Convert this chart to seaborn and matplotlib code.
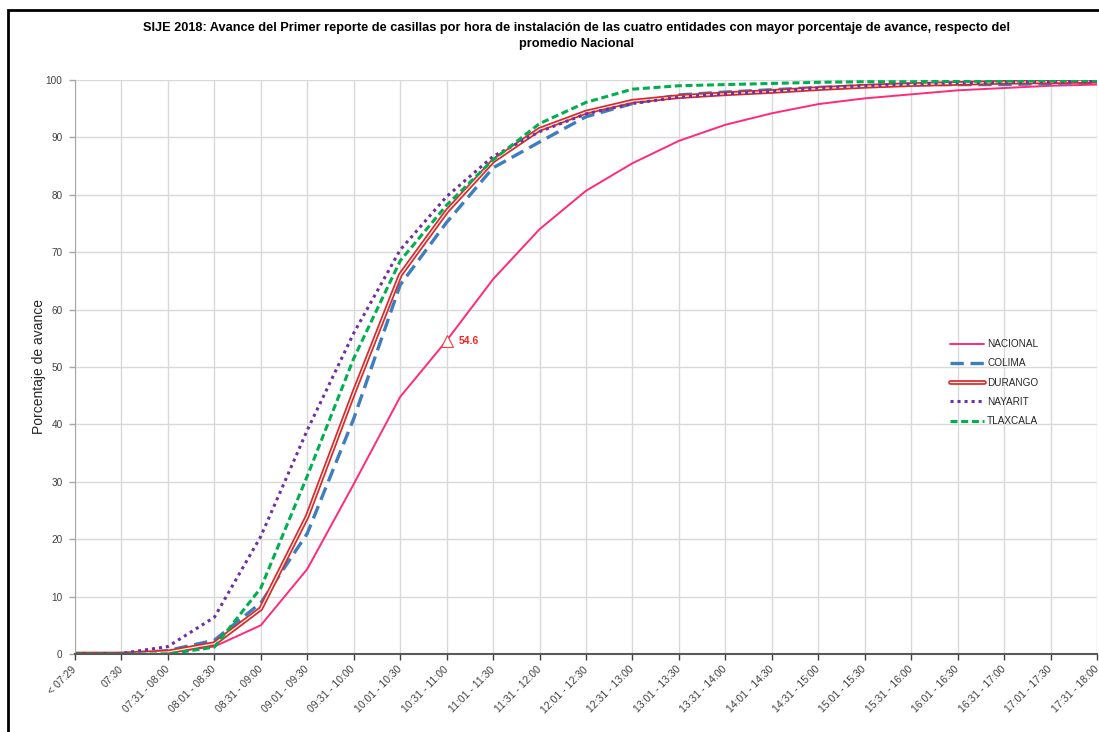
import pandas as pd
import matplotlib
matplotlib.use("Agg")
import matplotlib.pyplot as plt
import matplotlib.patheffects as pe
from matplotlib.patches import Rectangle
import seaborn as sns

# --- Data ---
horarios = [
    "< 07:29", "07:30", "07:31 - 08:00", "08:01 - 08:30", "08:31 - 09:00",
    "09:01 - 09:30", "09:31 - 10:00", "10:01 - 10:30", "10:31 - 11:00",
    "11:01 - 11:30", "11:31 - 12:00", "12:01 - 12:30", "12:31 - 13:00",
    "13:01 - 13:30", "13:31 - 14:00", "14:01 - 14:30", "14:31 - 15:00",
    "15:01 - 15:30", "15:31 - 16:00", "16:01 - 16:30", "16:31 - 17:00",
    "17:01 - 17:30", "17:31 - 18:00",
]
nacional = [0, 0, 0.3, 1.3, 5.0, 14.8, 29.6, 44.8, 54.6, 65.3, 74.0, 80.7,
            85.5, 89.4, 92.2, 94.2, 95.8, 96.8, 97.5, 98.2, 98.6, 99.0, 99.2]
colima = [0, 0, 0.6, 2.4, 8.9, 21.0, 41.0, 64.3, 75.2, 84.7, 89.2, 93.6,
          95.9, 97.4, 97.9, 98.3, 98.7, 99.0, 99.2, 99.2, 99.2, 99.4, 99.6]
durango = [0, 0, 0.35, 1.8, 7.9, 24.0, 45.5, 66.0, 77.1, 85.9, 91.4, 94.4,
           96.3, 97.1, 97.6, 98.0, 98.5, 98.9, 99.2, 99.4, 99.6, 99.7, 99.8]
nayarit = [0, 0.1, 1.3, 6.4, 20.5, 39.0, 55.9, 70.4, 79.7, 86.7, 91.0, 94.1,
           95.9, 97.0, 97.6, 98.0, 98.6, 99.0, 99.3, 99.5, 99.6, 99.7, 99.8]
tlaxcala = [0, 0, 0.0, 1.2, 11.5, 31.0, 51.5, 68.5, 78.2, 86.1, 92.4, 96.1,
            98.4, 99.0, 99.2, 99.4, 99.6, 99.7, 99.7, 99.8, 99.8, 99.9, 99.9]

TITLE = ("SIJE 2018: Avance del Primer reporte de casillas por hora de instalación de las "
         "cuatro entidades con mayor porcentaje de avance, respecto del\npromedio Nacional")

df = pd.DataFrame({
    "pos": range(len(horarios)),
    "NACIONAL": nacional,
    "COLIMA": colima,
    "DURANGO": durango,
    "NAYARIT": nayarit,
    "TLAXCALA": tlaxcala,
})

# line look per series (Excel-like)
styles = {
    "NACIONAL": dict(color="#FF2A7A", linewidth=1.4, linestyle="-"),
    "COLIMA": dict(color="#3D7EC0", linewidth=2.4, linestyle=(0, (4, 2))),
    "DURANGO": dict(color="#FFF2F2", linewidth=0.9, linestyle="-",
                    path_effects=[pe.Stroke(linewidth=3.4, foreground="#D92A2A"), pe.Normal()]),
    "NAYARIT": dict(color="#7030A0", linewidth=2.2, linestyle=(0, (1, 1.3))),
    "TLAXCALA": dict(color="#00B050", linewidth=2.2, linestyle=(0, (2.3, 1.2))),
}

sns.set_style("whitegrid")
plt.rcParams["font.family"] = ["Liberation Sans", "DejaVu Sans"]

W, H = 1099, 732
fig = plt.figure(figsize=(W / 100, H / 100), dpi=100)
ax = fig.add_axes([75 / W, 78 / H, 1022 / W, 574 / H])

for name, kw in styles.items():
    sns.lineplot(data=df, x="pos", y=name, ax=ax, label=name, errorbar=None, **kw)

# highlighted national value at 10:31 - 11:00
i = 8
ax.plot(i, nacional[i], marker="^", ms=8, mfc="white", mec="#FF3B3B", mew=0.8, zorder=5)
ax.annotate(f"{nacional[i]}", xy=(i, nacional[i]), xytext=(8.5, 0), textcoords="offset points",
            color="#FF2020", fontweight="bold", fontsize=7.5, va="center", ha="left")

# axes
ax.set_xlim(0, len(horarios) - 1)
ax.set_ylim(0, 100)
ax.set_xticks(range(len(horarios)))
ax.set_xticklabels(horarios, rotation=45, ha="right", va="center", rotation_mode="anchor")
ax.set_yticks(range(0, 101, 10))
ax.grid(True, color="#D9D9D9", linewidth=1)
ax.tick_params(axis="x", bottom=True, length=4, width=1, color="#404040",
               labelsize=7.5, labelcolor="#404040", pad=6)
ax.tick_params(axis="y", left=True, length=4, width=1, color="#A6A6A6",
               labelsize=7.2, labelcolor="#404040", pad=5)
for s in ["top", "right"]:
    ax.spines[s].set_visible(False)
ax.spines["left"].set_color("#A6A6A6")
ax.spines["bottom"].set_color("#595959")
ax.spines["bottom"].set_linewidth(1.5)

ax.set_xlabel("")
ax.set_ylabel("Porcentaje de avance", fontsize=10, color="#262626")
ax.yaxis.set_label_coords((46 - 75) / 1022, 0.5)

ax.legend(loc="upper left", bbox_to_anchor=(950 / W, 1 - 339 / H), bbox_transform=fig.transFigure,
          frameon=False, fontsize=7.2, handlelength=3.4, handletextpad=0.3,
          labelspacing=0.93, borderpad=0, borderaxespad=0, labelcolor="#262626")

fig.text(0.525, 1 - 22 / H, TITLE, ha="center", va="top", fontsize=9.2,
         fontweight="bold", linespacing=1.45, color="#000000")

# outer frame of the original picture
fig.patches.append(Rectangle((8 / W, -0.1), 1.2, 1.1 - 10 / H, transform=fig.transFigure,
                             fill=False, edgecolor="black", linewidth=2))

fig.savefig("out.png", dpi=100)
